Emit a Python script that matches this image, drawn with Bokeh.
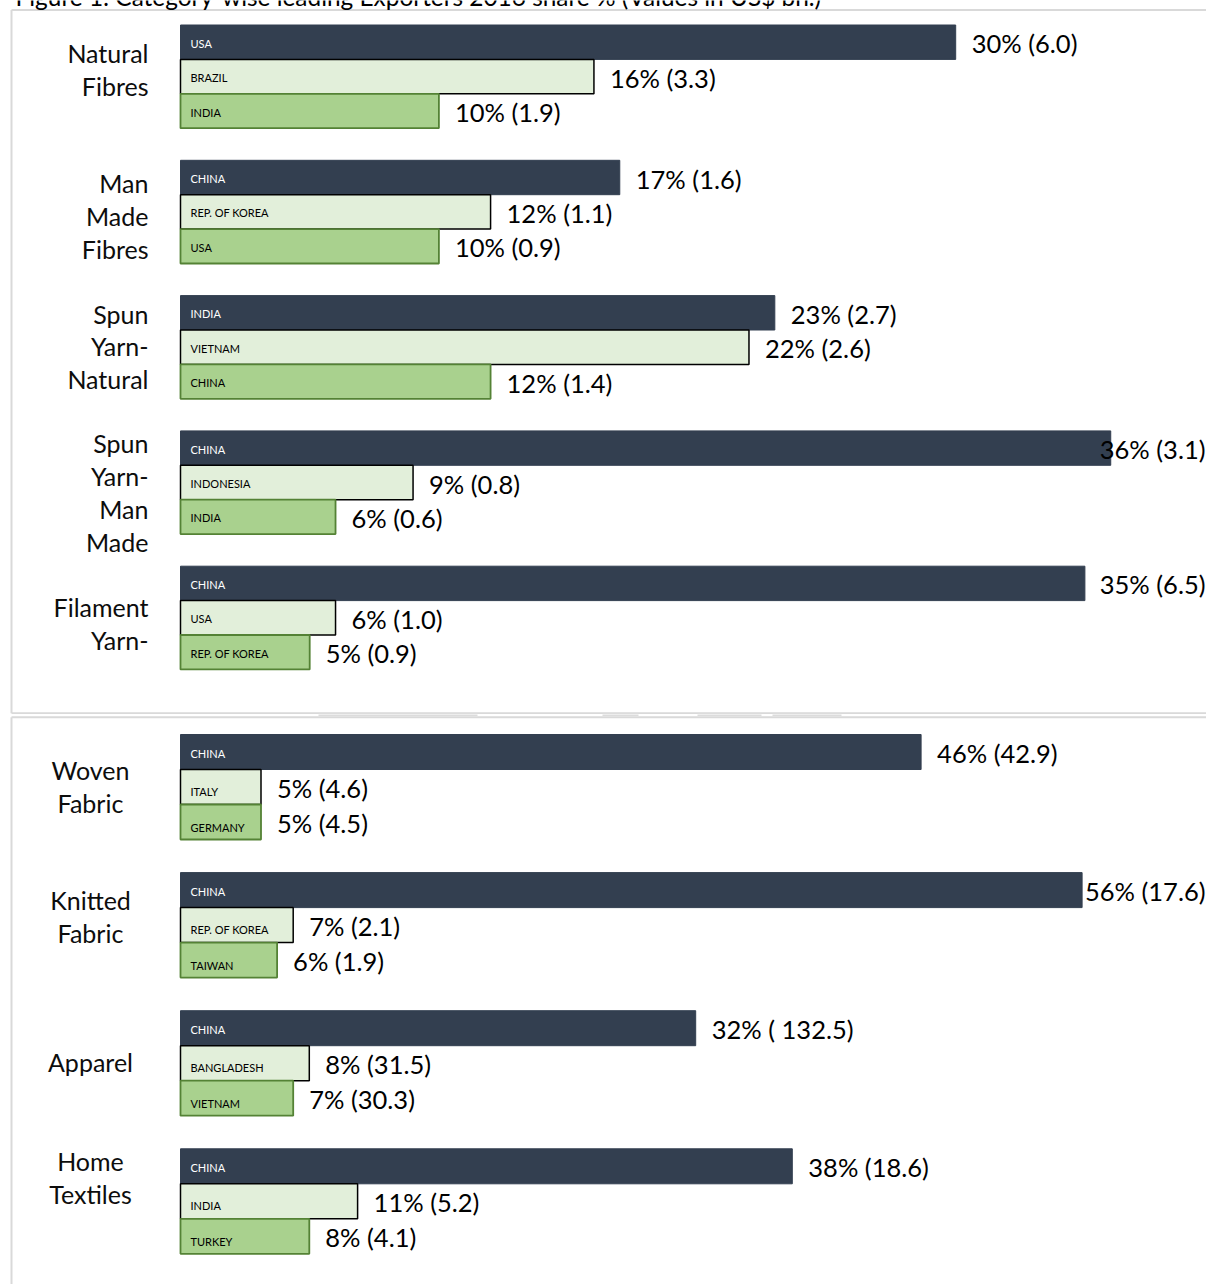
from bokeh.plotting import figure
from bokeh.layouts import column
from bokeh.models import Range1d, ColumnDataSource
from bokeh.core.properties import value
from bokeh.embed import file_html
from bokeh.resources import INLINE

# ---------------- data ----------------
TITLE = "Figure 1: Category-wise leading Exporters 2016 share % (Values in US$ bn.)"

top_categories = ["Natural\nFibres", "Man\nMade\nFibres", "Spun\nYarn-\nNatural",
                  "Spun\nYarn-\nMan\nMade", "Filament\nYarn-"]
top_countries = [["USA", "BRAZIL", "INDIA"],
                 ["CHINA", "REP. OF KOREA", "USA"],
                 ["INDIA", "VIETNAM", "CHINA"],
                 ["CHINA", "INDONESIA", "INDIA"],
                 ["CHINA", "USA", "REP. OF KOREA"]]
top_shares = [[30, 16, 10], [17, 12, 10], [23, 22, 12], [36, 9, 6], [35, 6, 5]]
top_values = [[6.0, 3.3, 1.9], [1.6, 1.1, 0.9], [2.7, 2.6, 1.4], [3.1, 0.8, 0.6], [6.5, 1.0, 0.9]]

bottom_categories = ["Woven\nFabric", "Knitted\nFabric", "Apparel", "Home\nTextiles"]
bottom_countries = [["CHINA", "ITALY", "GERMANY"],
                    ["CHINA", "REP. OF KOREA", "TAIWAN"],
                    ["CHINA", "BANGLADESH", "VIETNAM"],
                    ["CHINA", "INDIA", "TURKEY"]]
bottom_shares = [[46, 5, 5], [56, 7, 6], [32, 8, 7], [38, 11, 8]]
bottom_values = [[42.9, 4.6, 4.5], [17.6, 2.1, 1.9], [132.5, 31.5, 30.3], [18.6, 5.2, 4.1]]

# ---------------- style ----------------
FONT = "Lato"
DARK = "#333F50"
LIGHT = "#E2EFDA"
GREEN = "#A9D18E"
FILLS = [DARK, LIGHT, GREEN]
LINES = [DARK, "#000000", "#548235"]
LINE_W = [1, 1.5, 1.8]
INNER_TEXT = ["#FFFFFF", "#000000", "#000000"]
BORDER = "#D9D9D9"
VAL_FS = 25.5
CAT_FS = 25
W = 1206
ZERO_PX = 180
# faint grey pieces in the gap between the two chart frames (pixel spans)
GAP_SPANS = [(318, 477), (602, 638), (697, 761), (772, 841)]

CHAR_W = {"%": 0.80, " ": 0.193, "(": 0.31, ")": 0.31, ".": 0.21}


def est_width(s, fs):
    return sum(CHAR_W.get(c, 0.58) for c in s) * fs


def fmt(share, val):
    pad = " " if val >= 100 else ""
    return f"{share}% ({pad}{val:.1f})"


def make_panel(height, k, step, first_center, bar_px, cats, countries, shares, values,
               cat_dx, cat_align, cat_dy, inner_dy, border_top, border_bottom, gap_y,
               title=None):
    xr = Range1d(-ZERO_PX / k, (W - ZERO_PX) / k)
    y_top = first_center / step
    yr = Range1d(y_top - height / step, y_top)
    p = figure(width=W, height=height, x_range=xr, y_range=yr, output_backend="svg",
               toolbar_location=None, x_axis_location=None, y_axis_location=None,
               min_border=0, outline_line_color=None, background_fill_color="white",
               border_fill_color="white")
    p.grid.visible = False

    def X(px):
        return (px - ZERO_PX) / k

    def Y(py):
        return y_top - py / step

    # panel border (chart area frame)
    p.segment(x0=[X(11), X(11), X(11)], y0=[Y(border_top), Y(border_top), Y(border_bottom)],
              x1=[X(11), X(W + 20), X(W + 20)], y1=[Y(border_bottom), Y(border_top), Y(border_bottom)],
              line_color=BORDER, line_width=2)
    p.segment(x0=[X(a) for a, b in GAP_SPANS], x1=[X(b) for a, b in GAP_SPANS],
              y0=[Y(gap_y)] * len(GAP_SPANS), y1=[Y(gap_y)] * len(GAP_SPANS),
              line_color="#DCDCDC", line_width=2.5)

    h = bar_px / step
    rows = dict(y=[], share=[], fill=[], line=[], lw=[], country=[], tcol=[], idy=[])
    norm = dict(x=[], y=[], label=[])
    right = dict(x=[], y=[], label=[])
    for i, cat in enumerate(cats):
        for r in range(3):
            y = -i + (1 - r) * h
            rows["y"].append(y)
            rows["share"].append(shares[i][r])
            rows["fill"].append(FILLS[r])
            rows["line"].append(LINES[r])
            rows["lw"].append(LINE_W[r])
            rows["country"].append(countries[i][r])
            rows["tcol"].append(INNER_TEXT[r])
            rows["idy"].append(inner_dy[r])
            lab = fmt(shares[i][r], values[i][r])
            end_px = ZERO_PX + shares[i][r] * k
            if end_px + 16 + est_width(lab, VAL_FS) > W:
                right["x"].append(X(W - 1))
                right["y"].append(y)
                right["label"].append(lab)
            else:
                norm["x"].append(shares[i][r])
                norm["y"].append(y)
                norm["label"].append(lab)

    src = ColumnDataSource(rows)
    p.hbar(y="y", left=0, right="share", height=h, fill_color="fill", line_color="line",
           line_width="lw", source=src)
    p.text(x=0, y="y", text="country", x_offset=10, y_offset="idy", text_align="left",
           text_baseline="middle", text_font=value(FONT), text_font_size="11px",
           text_color="tcol", source=src)
    p.text(x="x", y="y", text="label", x_offset=16, y_offset=1, text_align="left",
           text_baseline="middle", text_font=value(FONT), text_font_size=f"{VAL_FS}px",
           text_color="#000000", source=ColumnDataSource(norm))
    if right["x"]:
        p.text(x="x", y="y", text="label", y_offset=1, text_align="right",
               text_baseline="middle", text_font=value(FONT), text_font_size=f"{VAL_FS}px",
               text_color="#000000", source=ColumnDataSource(right))

    p.text(x=[0] * len(cats), y=[-i for i in range(len(cats))], text=cats,
           x_offset=cat_dx, y_offset=cat_dy, text_align=cat_align, text_baseline="middle",
           text_line_height=1.09, text_font=value(FONT), text_font_size=f"{CAT_FS}px",
           text_color="#0D0D0D")

    if title:
        p.text(x=[X(15)], y=[Y(-4.5)], text=[title], text_align="left",
               text_baseline="alphabetic", text_font=value(FONT), text_font_size="24.4px",
               text_color="#000000")
    return p


p1 = make_panel(714, 25.84, 135.3, 76.1, 34.4, top_categories, top_countries, top_shares,
                top_values, cat_dx=-32, cat_align="right", cat_dy=[-7, 4, -1, 10, 6],
                inner_dy=[1, 1, 1], border_top=9.5, border_bottom=712.7, gap_y=714,
                title=TITLE)
p2 = make_panel(570, 16.1, 138.1, 72.5, 35.0, bottom_categories, bottom_countries,
                bottom_shares, bottom_values, cat_dx=-90, cat_align="center",
                cat_dy=[-0.5, -8.5, -1, -24], inner_dy=[1.5, 4, 5], border_top=2.7,
                border_bottom=640, gap_y=0.3)

p = column(p1, p2, spacing=0)
open("out.html", "w").write(file_html(p, INLINE))
